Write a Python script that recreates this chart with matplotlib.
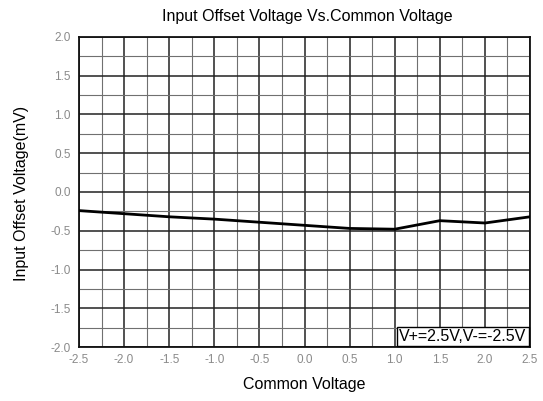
import matplotlib
matplotlib.use("Agg")
import matplotlib.pyplot as plt
import numpy as np

plt.rcParams['font.family'] = ['Liberation Sans', 'DejaVu Sans']

common_voltage = [-2.5, -2.0, -1.5, -1.0, -0.5, 0.0, 0.5, 1.0, 1.5, 2.0, 2.5]
offset_mv = [-0.24, -0.28, -0.32, -0.35, -0.39, -0.43, -0.47, -0.48, -0.37, -0.40, -0.32]
x_ticks = [-2.5, -2.0, -1.5, -1.0, -0.5, 0.0, 0.5, 1.0, 1.5, 2.0, 2.5]
y_ticks = [-2.0, -1.5, -1.0, -0.5, 0.0, 0.5, 1.0, 1.5, 2.0]

fig = plt.figure(figsize=(5.43, 4.01), dpi=100)
ax = fig.add_axes([79/543, 54/401, 451/543, 310/401])

ax.set_xlim(-2.5, 2.5)
ax.set_ylim(-2.0, 2.0)
ax.set_xticks(x_ticks)
ax.set_yticks(y_ticks)
ax.set_xticks(np.arange(-2.5, 2.51, 0.25), minor=True)
ax.set_yticks(np.arange(-2.0, 2.01, 0.25), minor=True)
ax.set_xticklabels([f"{v:.1f}" for v in x_ticks])
ax.set_yticklabels([f"{v:.1f}" for v in y_ticks])
ax.grid(which='major', color='#222222', linewidth=1.1)
ax.grid(which='minor', color='#707070', linewidth=0.8)
ax.set_axisbelow(True)
ax.tick_params(which='both', length=0, labelsize=8.5, labelcolor='#8a8a8a')
ax.tick_params(axis='y', pad=6)
ax.tick_params(axis='x', pad=5)
for s in ax.spines.values():
    s.set_color('#111111')
    s.set_linewidth(1.3)

ax.plot(common_voltage, offset_mv, color='black', linewidth=2.0, zorder=3)

ax.text(0.992, 0.01, "V+=2.5V,V-=-2.5V", transform=ax.transAxes, ha='right', va='bottom',
        fontsize=11.5, color='black', zorder=5,
        bbox=dict(boxstyle='square,pad=0.15', facecolor='white', edgecolor='black', linewidth=1.0))

fig.text(307/543, 1 - 17/401, "Input Offset Voltage Vs.Common Voltage", ha='center', va='center', fontsize=11.5)
fig.text(304/543, 1 - 384/401, "Common Voltage", ha='center', va='center', fontsize=11.5)
fig.text(22/543, 1 - 193/401, "Input Offset Voltage(mV)", ha='center', va='center', rotation=90, fontsize=11.5)

fig.savefig("out.png", dpi=100)
